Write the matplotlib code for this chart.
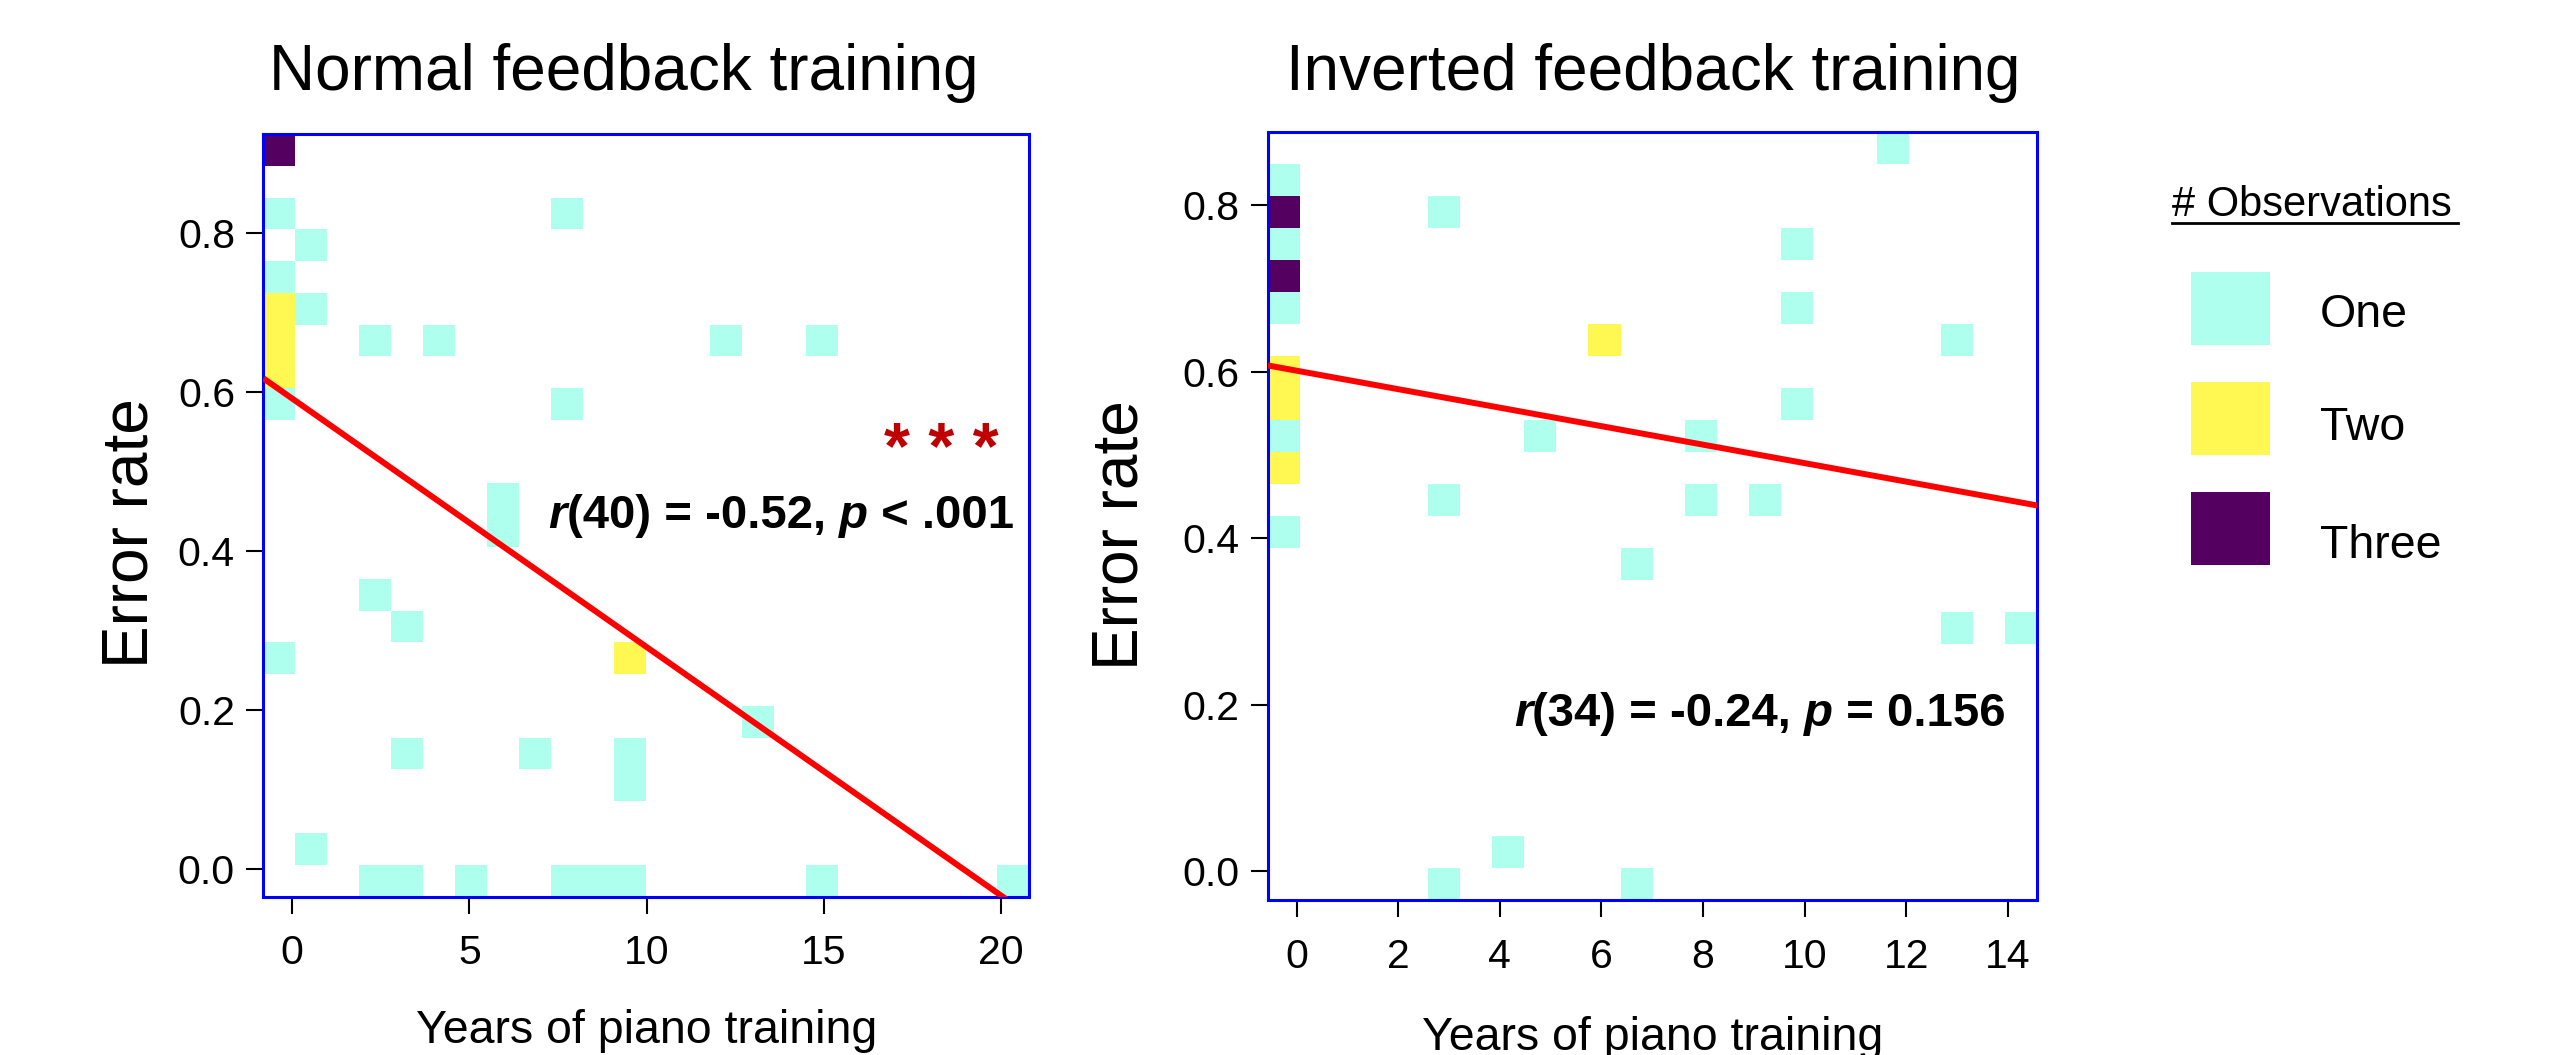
import numpy as np
import matplotlib
matplotlib.use('Agg')
import matplotlib.pyplot as plt
from matplotlib.colors import ListedColormap, BoundaryNorm
from matplotlib.patches import Rectangle
from matplotlib.lines import Line2D
from matplotlib.ticker import FormatStrFormatter

plt.rcParams['font.family'] = ['Liberation Sans', 'DejaVu Sans']

# ---------------- data ----------------
panel_titles = ['Normal feedback training', 'Inverted feedback training']
x_label = 'Years of piano training'
y_label = 'Error rate'

# Normal feedback training: one entry per observation
normal_years = [0, 0, 0, 0, 0.5, 0, 0, 0, 0, 0, 0, 0, 0, 0.5, 2.5, 4, 8, 8, 12.5, 15,
                6, 6, 2.5, 3, 0, 9.5, 9.5, 13, 3, 7, 9.5, 9.5, 0.5,
                2.5, 3, 5, 8, 8.5, 9.5, 15, 20]
normal_error = [0.90, 0.90, 0.90, 0.82, 0.78, 0.75, 0.70, 0.70, 0.67, 0.67, 0.63, 0.63, 0.58,
                0.70, 0.67, 0.67, 0.82, 0.58, 0.67, 0.67,
                0.46, 0.42, 0.33, 0.30, 0.26, 0.26, 0.26, 0.18, 0.14, 0.14, 0.14, 0.10, 0.02,
                0.0, 0.0, 0.0, 0.0, 0.0, 0.0, 0.0, 0.0]

# Inverted feedback training: one entry per observation
inverted_years = [11.7, 0, 0, 0, 0, 0, 0, 0, 0, 0, 0, 0, 0, 0, 0, 0, 0, 0,
                  3, 10, 10, 6, 6, 13, 10, 4.8, 8, 3, 8, 9.2, 6.7, 13, 14.3, 4, 3, 6.7]
inverted_error = [0.87, 0.83, 0.79, 0.79, 0.79, 0.75, 0.71, 0.71, 0.71, 0.675, 0.60, 0.60,
                  0.56, 0.56, 0.52, 0.48, 0.48, 0.41,
                  0.79, 0.75, 0.675, 0.635, 0.635, 0.635, 0.56, 0.52, 0.52, 0.445, 0.445,
                  0.445, 0.37, 0.29, 0.29, 0.02, 0.0, 0.0]

# fitted regression lines: (intercept, slope)
normal_fit = (0.592, -0.0313)
inverted_fit = (0.601, -0.0111)

normal_stat = [('r', 'italic'), ('(40) = -0.52,', 'normal'), (' p', 'italic'), (' < .001', 'normal')]
inverted_stat = [('r', 'italic'), ('(34) = -0.24,', 'normal'), (' p', 'italic'), (' = 0.156', 'normal')]
significance = '* * *'

count_labels = ['One', 'Two', 'Three']
count_colors = ['#AFFFEE', '#FFF852', '#530060']
legend_title = '# Observations'

normal_xticks = [0, 5, 10, 15, 20]
inverted_xticks = [0, 2, 4, 6, 8, 10, 12, 14]
y_ticks = [0.0, 0.2, 0.4, 0.6, 0.8]

# ---------------- figure ----------------
W, H = 2554, 1055
fig = plt.figure(figsize=(W / 100, H / 100), dpi=100)


def fx(px):
    return px / W


def fy(py):
    return 1 - py / H


cmap = ListedColormap(count_colors)
norm = BoundaryNorm([0.5, 1.5, 2.5, 3.5], cmap.N)

TICK_FS = 29.5
STAT_FS = 34


def make_panel(rect, years, errors, xlim, ylim, nbins, fit, xticks):
    ax = fig.add_axes(rect)
    xedges = np.linspace(xlim[0], xlim[1], nbins + 1)
    yedges = np.linspace(ylim[0], ylim[1], nbins + 1)
    Hc, _, _ = np.histogram2d(years, errors, bins=[xedges, yedges])
    Hm = np.ma.masked_equal(Hc.T, 0)
    ax.pcolormesh(xedges, yedges, Hm, cmap=cmap, norm=norm, shading='flat',
                  antialiased=False, edgecolors='none')
    xs = np.array(xlim)
    ax.plot(xs, fit[0] + fit[1] * xs, color='#FF0000', lw=4.3, solid_capstyle='butt', zorder=3)
    ax.set_xlim(xlim)
    ax.set_ylim(ylim)
    ax.set_xticks(xticks)
    ax.set_yticks(y_ticks)
    ax.yaxis.set_major_formatter(FormatStrFormatter('%.1f'))
    for sp in ax.spines.values():
        sp.set_color('#0000FF')
        sp.set_linewidth(2.2)
    ax.tick_params(axis='both', direction='out', length=12.5, width=1.5, color='black',
                   labelsize=TICK_FS, labelcolor='black')
    ax.tick_params(axis='x', pad=14.5)
    ax.tick_params(axis='y', pad=8)
    return ax


def stat_text(ax, x, y, pieces):
    t = ax.text(x, y, pieces[0][0], fontsize=STAT_FS, fontweight='bold',
                fontstyle=pieces[0][1], ha='left', va='baseline', zorder=5)
    for s, style in pieces[1:]:
        t = ax.annotate(s, xy=(1, 0), xycoords=t, ha='left', va='bottom',
                        fontsize=STAT_FS, fontweight='bold', fontstyle=style, zorder=5)


ax1 = make_panel([fx(263.4), fy(896.5), fx(1029.3) - fx(263.4), fy(134) - fy(896.5)],
                 normal_years, normal_error, (-0.81, 20.79), (-0.035, 0.925), 24,
                 normal_fit, normal_xticks)
ax2 = make_panel([fx(1267.8), fy(900.2), fx(2037.4) - fx(1267.8), fy(132.4) - fy(900.2)],
                 inverted_years, inverted_error, (-0.565, 14.579), (-0.0346, 0.887), 24,
                 inverted_fit, inverted_xticks)

stat_text(ax1, 7.22, 0.429, normal_stat)
stat_text(ax2, 4.28, 0.1744, inverted_stat)

# significance stars
ax1.text(18.32, 0.5034, significance, fontsize=48, fontweight='bold',
         color='#C00000', ha='center', va='baseline', zorder=5)

# titles
fig.text(fx(624), fy(90), panel_titles[0], fontsize=46, ha='center', va='baseline')
fig.text(fx(1653), fy(90), panel_titles[1], fontsize=46, ha='center', va='baseline')

# axis labels
fig.text(fx(647), fy(1043), x_label, fontsize=33.5, ha='center', va='baseline')
fig.text(fx(1653), fy(1050), x_label, fontsize=33.5, ha='center', va='baseline')
fig.text(fx(130), fy(533), y_label, fontsize=46, rotation=90, ha='center', va='center')
fig.text(fx(1121), fy(535), y_label, fontsize=46, rotation=90, ha='center', va='center')

# legend
fig.text(fx(2172), fy(216), legend_title, fontsize=30, ha='left', va='baseline')
fig.add_artist(Line2D([fx(2172), fx(2458)], [fy(223), fy(223)], color='black', lw=2,
                      transform=fig.transFigure))
key_tops = [272, 382, 492]
label_baselines = [327, 440, 558]
for col, lab, top, base in zip(count_colors, count_labels, key_tops, label_baselines):
    fig.add_artist(Rectangle((fx(2191), fy(top + 73)), fx(79), 73 / H, facecolor=col,
                             edgecolor='none', transform=fig.transFigure))
    fig.text(fx(2320), fy(base), lab, fontsize=33.5, ha='left', va='baseline')

fig.savefig('out.png', dpi=100, facecolor='white')
